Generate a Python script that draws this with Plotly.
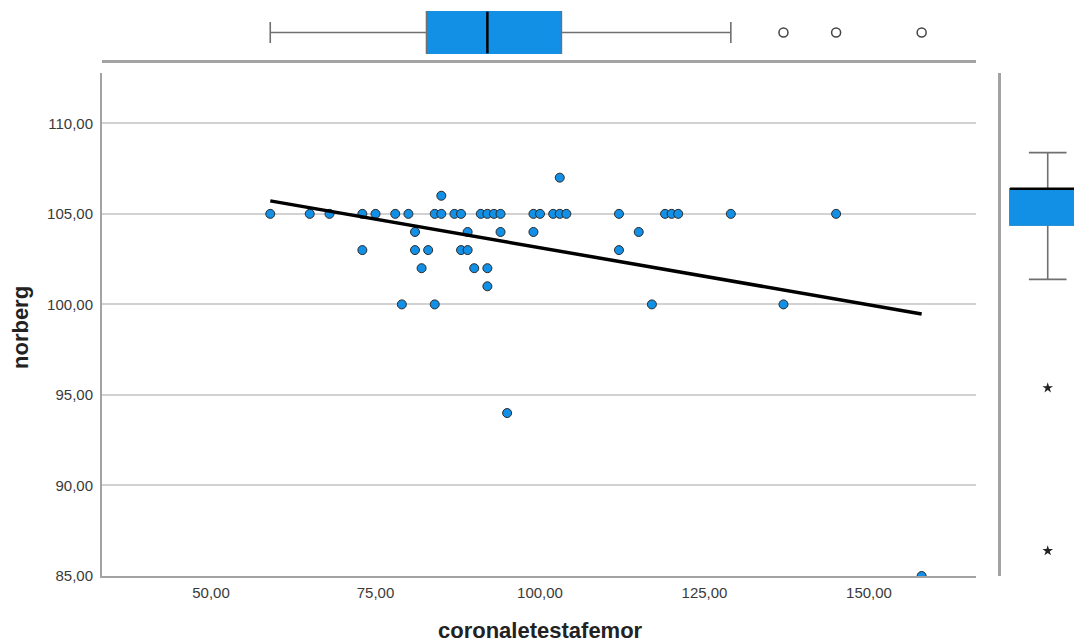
import numpy as np
import plotly.graph_objects as go

# ---- data ----
coronaletestafemor = [59, 65, 68, 73, 75, 78, 80, 84, 85, 87, 88, 91, 92, 93, 94, 99, 100,
                      102, 103, 104, 112, 119, 120, 121, 129, 145,
                      103, 85,
                      81, 89, 94, 99, 115,
                      73, 81, 83, 88, 89, 112,
                      82, 90, 92,
                      92,
                      79, 84, 117, 137,
                      95, 158]
norberg = [105] * 26 + [107, 106] + [104] * 5 + [103] * 6 + [102] * 3 + [101] + [100] * 4 + [94, 85]

x_ticks = [50, 75, 100, 125, 150]
y_ticks = [85, 90, 95, 100, 105, 110]

x_title = "coronaletestafemor"
y_title = "norberg"

# ---- styling ----
BLUE = "#1290e6"
GRAY_AX = "#a3a3a3"
WHISK = "#707070"
FONT = "Liberation Sans, Arial, sans-serif"

x = np.array(coronaletestafemor, dtype=float)
y = np.array(norberg, dtype=float)

slope, intercept = np.polyfit(x, y, 1)
fit_x = np.array([x.min(), x.max()])
fit_y = slope * fit_x + intercept

xq1, xmed, xq3 = np.percentile(x, [25, 50, 75])
yq1, ymed, yq3 = np.percentile(y, [25, 50, 75])

# page body has an 8px margin, so the figure is drawn 8px in from the window corner
OFF = 8
W, H = 1082 - OFF, 642 - OFF


def px_x(v):
    return (v - OFF) / W


def px_y(v):
    return (H - (v - OFF)) / H


fig = go.Figure()

# main scatter
fig.add_trace(go.Scatter(x=x, y=y, mode="markers",
                         marker=dict(size=9, color=BLUE, line=dict(color="#2a2a2a", width=1)),
                         showlegend=False, xaxis="x", yaxis="y"))
# fit line
fig.add_trace(go.Scatter(x=fit_x, y=fit_y, mode="lines",
                         line=dict(color="black", width=3.5),
                         showlegend=False, xaxis="x", yaxis="y"))

# top box plot (x)
TOPW = 0.80
fig.add_trace(go.Box(x=x, y0=0, orientation="h", xaxis="x2", yaxis="y2",
                     width=TOPW, fillcolor=BLUE, line=dict(color=WHISK, width=1.6),
                     whiskerwidth=0.5, boxpoints="outliers", jitter=0, pointpos=0,
                     marker=dict(symbol="circle-open", size=9, color="#444",
                                 line=dict(width=1.5, color="#444")),
                     showlegend=False, hoverinfo="skip"))
fig.add_trace(go.Box(q1=[xq1], median=[xmed], q3=[xq3], lowerfence=[xq1], upperfence=[xq3],
                     y=[0], orientation="h", xaxis="x2", yaxis="y2",
                     width=TOPW, fillcolor=BLUE, line=dict(color=BLUE, width=1.6),
                     whiskerwidth=0, showlegend=False, hoverinfo="skip"))
fig.add_trace(go.Scatter(x=[xmed, xmed], y=[-TOPW / 2, TOPW / 2], mode="lines",
                         line=dict(color="black", width=2.5), xaxis="x2", yaxis="y2",
                         showlegend=False, hoverinfo="skip"))

# right box plot (y)
fig.add_trace(go.Box(y=y, x0=0, xaxis="x3", yaxis="y3",
                     width=1, fillcolor=BLUE, line=dict(color=WHISK, width=1.6),
                     whiskerwidth=0.5, boxpoints="outliers", jitter=0, pointpos=0,
                     marker=dict(symbol="star", size=8, color="#222"),
                     showlegend=False, hoverinfo="skip"))
fig.add_trace(go.Box(q1=[yq1], median=[ymed], q3=[yq3], lowerfence=[yq1], upperfence=[yq3],
                     x=[0], xaxis="x3", yaxis="y3",
                     width=1, fillcolor=BLUE, line=dict(color=BLUE, width=1.6),
                     whiskerwidth=0, showlegend=False, hoverinfo="skip"))
fig.add_trace(go.Scatter(x=[-0.5, 0.5], y=[ymed, ymed], mode="lines",
                         line=dict(color="black", width=2.5), xaxis="x3", yaxis="y3",
                         showlegend=False, hoverinfo="skip"))

xdom = [px_x(102), px_x(976)]
ydom = [px_y(576), px_y(73)]
XR = [33.43, 166.26]

fig.update_layout(
    width=W, height=H,
    margin=dict(l=0, r=0, t=0, b=0),
    paper_bgcolor="white", plot_bgcolor="white",
    separators=", ",
    font=dict(family=FONT, size=15, color="#333"),
    xaxis=dict(domain=xdom, range=XR, anchor="y", showline=True, linecolor=GRAY_AX, linewidth=2,
               showgrid=False, zeroline=False, tickvals=x_ticks, tickformat=".2f",
               ticks="", ticklabelstandoff=2, automargin=False,
               tickfont=dict(size=15, color="#3a3a3a")),
    yaxis=dict(domain=ydom, range=[85, 112.78], anchor="x", showline=True, linecolor=GRAY_AX,
               linewidth=2, showgrid=True, gridcolor="#d2d2d2", gridwidth=1.5, zeroline=False,
               tickvals=y_ticks, tickformat=".2f", ticks="", ticklabelstandoff=4,
               automargin=False, tickfont=dict(size=15, color="#3a3a3a")),
    xaxis2=dict(domain=xdom, range=XR, anchor="y2", showline=True, linecolor=GRAY_AX, linewidth=2.5,
                showgrid=False, zeroline=False, showticklabels=False, ticks="", automargin=False),
    yaxis2=dict(domain=[px_y(60), 1.0], range=[-0.529, 0.471], anchor="x2",
                showline=False, showgrid=False, zeroline=False, showticklabels=False,
                ticks="", automargin=False),
    xaxis3=dict(domain=[px_x(1001), 1.0], range=[-0.62, 0.455], anchor="y3", showline=False,
                showgrid=False, zeroline=False, showticklabels=False, ticks="", automargin=False),
    yaxis3=dict(domain=ydom, range=[83.61, 111.40], anchor="x3", showline=True,
                linecolor=GRAY_AX, linewidth=2.5, showgrid=False, zeroline=False,
                showticklabels=False, ticks="", automargin=False),
    annotations=[
        dict(text=f"<b>{x_title}</b>", xref="paper", yref="paper", x=px_x(540), y=px_y(630),
             showarrow=False, font=dict(size=22, color="#222", family=FONT),
             xanchor="center", yanchor="middle"),
        dict(text=f"<b>{y_title}</b>", xref="paper", yref="paper", x=px_x(20), y=px_y(328),
             showarrow=False, textangle=-90, font=dict(size=22, color="#222", family=FONT),
             xanchor="center", yanchor="middle"),
    ],
)

fig.write_html("out.html")
